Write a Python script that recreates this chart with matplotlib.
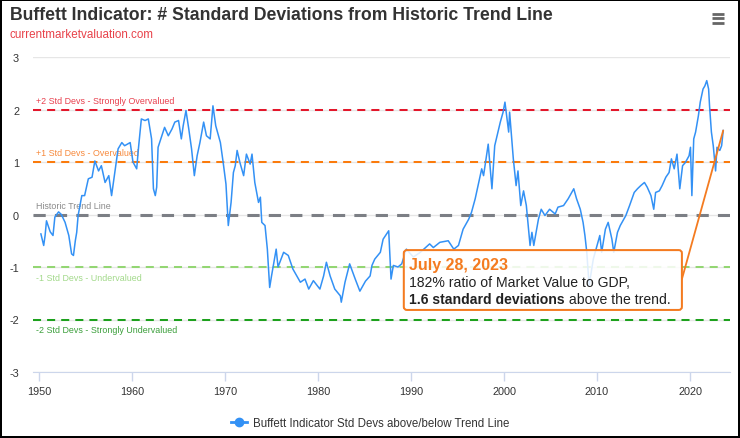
import matplotlib
matplotlib.use("Agg")
import matplotlib.pyplot as plt
from matplotlib.patches import FancyBboxPatch
from matplotlib.lines import Line2D

plt.rcParams['font.family'] = ['Liberation Sans', 'DejaVu Sans']
plt.rcParams['axes.unicode_minus'] = False

# decimal year of each reading
years = [1950.2, 1950.5, 1950.65, 1950.8, 1951.2, 1951.5, 1951.7, 1952.1, 1952.4, 1952.8,
         1953.2, 1953.5, 1953.7, 1953.9, 1954.05, 1954.2, 1954.6, 1954.9, 1955.3, 1955.7,
         1956.0, 1956.4, 1956.7, 1957.1, 1957.5, 1957.8, 1958.2, 1958.5, 1958.9, 1959.2,
         1959.8, 1960.1, 1960.5, 1960.7, 1961.0, 1961.4, 1961.75, 1962.1, 1962.3, 1962.5,
         1962.65, 1962.8, 1963.2, 1963.5, 1963.9, 1964.3, 1964.6, 1965.0, 1965.3, 1965.5,
         1965.8, 1966.1, 1966.4, 1966.7, 1967.0, 1967.3, 1967.7, 1968.0, 1968.4, 1968.7,
         1969.0, 1969.5, 1969.8, 1970.1, 1970.35, 1970.65, 1970.9, 1971.1, 1971.3, 1971.6,
         1972.0, 1972.3, 1972.7, 1972.9, 1973.2, 1973.6, 1973.8, 1973.95, 1974.3, 1974.55,
         1974.8, 1975.0, 1975.5, 1975.7, 1976.3, 1976.8, 1977.3, 1978.1, 1978.6, 1979.0,
         1979.5, 1980.2, 1980.6, 1980.9, 1981.3, 1981.8, 1982.4, 1982.5, 1982.9, 1983.4,
         1984.0, 1984.5, 1985.1, 1985.6, 1985.8, 1986.1, 1986.7, 1987.0, 1987.6, 1987.85,
         1988.1, 1988.6, 1989.0, 1989.5, 1990.25, 1991.0, 1992.0, 1992.4, 1993.1, 1994.0,
         1994.6, 1995.1, 1995.6, 1996.2, 1996.5, 1996.9, 1997.6, 1997.8, 1998.3, 1998.7,
         1999.0, 1999.6, 1999.9, 2000.1, 2000.5, 2000.6, 2001.0, 2001.3, 2001.5, 2001.8,
         2002.1, 2002.4, 2002.8, 2003.0, 2003.2, 2003.7, 2004.0, 2004.4, 2004.9, 2005.5,
         2005.8, 2006.4, 2006.9, 2007.5, 2007.8, 2008.2, 2008.5, 2008.7, 2008.9, 2009.15,
         2009.6, 2010.0, 2010.3, 2010.5, 2010.9, 2011.2, 2011.6, 2011.8, 2012.2, 2012.5,
         2013.1, 2013.5, 2014.0, 2014.35, 2014.7, 2015.1, 2015.4, 2015.8, 2016.1, 2016.3,
         2016.7, 2017.0, 2017.4, 2017.75, 2018.0, 2018.3, 2018.6, 2018.9, 2019.2, 2019.5,
         2019.9, 2020.05, 2020.2, 2020.4, 2020.6, 2020.9, 2021.1, 2021.4, 2021.6, 2021.8,
         2022.0, 2022.1, 2022.3, 2022.5, 2022.75, 2022.9, 2023.2, 2023.4, 2023.57]

std_devs = [-0.37, -0.59, -0.40, -0.12, -0.33, -0.40, -0.05, 0.05, 0.00, -0.15,
            -0.40, -0.75, -0.78, -0.50, -0.34, -0.02, 0.36, 0.36, 0.68, 0.71,
            1.02, 0.83, 0.93, 0.61, 0.74, 0.36, 0.87, 1.25, 1.37, 1.31,
            1.37, 1.00, 0.87, 1.28, 1.82, 1.79, 1.82, 1.44, 0.49, 0.36,
            0.52, 1.28, 1.50, 1.66, 1.50, 1.63, 1.76, 1.79, 1.44, 1.69,
            1.98, 1.63, 1.25, 0.74, 1.12, 1.37, 1.76, 1.50, 1.44, 2.07,
            1.69, 1.37, 0.99, 0.58, -0.21, 0.23, 0.80, 0.93, 1.22, 0.99,
            0.74, 1.15, 0.96, 1.15, 0.61, 0.23, 0.33, -0.15, -0.21, -0.66,
            -1.39, -1.17, -0.66, -1.00, -0.72, -0.78, -1.04, -1.29, -1.23, -1.42,
            -1.26, -1.42, -1.17, -0.91, -1.17, -1.42, -1.55, -1.67, -1.29, -0.94,
            -1.23, -1.46, -1.27, -1.17, -0.97, -0.85, -0.72, -0.47, -0.31, -1.23,
            -0.97, -1.00, -0.94, -0.66, -0.81, -0.72, -0.56, -0.63, -0.53, -0.50,
            -0.66, -0.59, -0.28, -0.09, 0.04, 0.30, 0.87, 0.74, 1.34, 0.49,
            1.31, 1.76, 1.95, 2.14, 1.57, 1.95, 1.06, 0.55, 0.83, 0.17,
            0.45, 0.17, -0.59, -0.34, -0.59, -0.09, 0.10, -0.02, 0.10, 0.01,
            0.14, 0.17, 0.30, 0.49, 0.30, 0.10, -0.15, -0.40, -0.72, -1.35,
            -0.85, -0.59, -0.40, -0.72, -0.28, -0.15, -0.47, -0.72, -0.34, -0.21,
            -0.02, 0.17, 0.42, 0.49, 0.55, 0.61, 0.52, 0.36, 0.10, 0.42,
            0.45, 0.55, 0.71, 0.80, 1.06, 0.87, 1.15, 0.49, 0.93, 0.99,
            1.12, 1.28, 0.36, 1.44, 1.57, 1.88, 2.14, 2.39, 2.45, 2.55,
            2.39, 2.07, 1.57, 1.31, 0.83, 1.28, 1.22, 1.31, 1.60]

band_levels = [2, 1, 0, -1, -2]
band_labels = ['+2 Std Devs - Strongly Overvalued', '+1 Std Devs - Overvalued',
               'Historic Trend Line', '-1 Std Devs - Undervalued',
               '-2 Std Devs - Strongly Undervalued']
band_colors = ['#e3172b', '#fb7b0c', '#7c7f85', '#93d673', '#1da11d']
band_text_colors = ['#e8404e', '#f7893c', '#8a8a8a', '#a2d98a', '#3a9e3a']

decade_ticks = [1950, 1960, 1970, 1980, 1990, 2000, 2010, 2020]
y_ticks = [-3, -2, -1, 0, 1, 2, 3]

series_name = 'Buffett Indicator Std Devs above/below Trend Line'
note_date = 'July 28, 2023'
note_ratio = '182% ratio of Market Value to GDP,'
note_bold = '1.6 standard deviations'
note_rest = ' above the trend.'

blue = '#3391f5'
orange = '#f47b20'

fig = plt.figure(figsize=(7.4, 4.39), dpi=100)
fig.patch.set_edgecolor('black')
fig.patch.set_linewidth(1.5)
ax = fig.add_axes([33 / 740, 66 / 439, 697 / 740, 315 / 439])

for lvl, lab, c, tc in zip(band_levels, band_labels, band_colors, band_text_colors):
    lw = 2.2 if lvl == 0 else 1.45
    ax.axhline(lvl, color=c, lw=lw, linestyle=(0, (4, 3)), zorder=2)
    if lvl >= 0:
        ax.annotate(lab, xy=(0, lvl), xycoords=('axes fraction', 'data'),
                    xytext=(2.5, 3.5), textcoords='offset points',
                    fontsize=6.4, color=tc, va='bottom', ha='left')
    else:
        ax.annotate(lab, xy=(0, lvl), xycoords=('axes fraction', 'data'),
                    xytext=(2.5, -4), textcoords='offset points',
                    fontsize=6.4, color=tc, va='top', ha='left')

ax.plot(years, std_devs, color=blue, lw=1.1, zorder=3)

ax.set_xlim(1949.35, 2024.3)
ax.set_ylim(-3, 3)
ax.set_yticks(y_ticks)
ax.set_xticks(decade_ticks)
ax.set_xticklabels([str(d) for d in decade_ticks])
ax.grid(axis='y', color='#e6e6e6', lw=1, zorder=0)
for s in ['top', 'left', 'right']:
    ax.spines[s].set_visible(False)
ax.spines['bottom'].set_color('#ccd6eb')
ax.tick_params(axis='x', direction='out', length=6.5, width=1, color='#ccd6eb',
               labelsize=7.8, labelcolor='#333333', pad=3.5)
ax.tick_params(axis='y', length=0, labelsize=7.8, labelcolor='#333333', pad=10)

# annotation box
box = FancyBboxPatch((0.532, 0.197), 0.399, 0.19, boxstyle='round,pad=0,rounding_size=0.0045',
                     mutation_aspect=2.2, transform=ax.transAxes,
                     facecolor=(1, 1, 1, 0.85), edgecolor=orange, lw=1.45, zorder=5)
ax.add_patch(box)
ax.annotate('', xy=(years[-1], std_devs[-1]), xytext=(0.931, 0.295), textcoords='axes fraction',
            arrowprops=dict(arrowstyle='-', color=orange, lw=1.3, shrinkA=0, shrinkB=0), zorder=4)
ax.text(0.5394, 0.327, note_date, transform=ax.transAxes, fontsize=11.5, fontweight='bold',
        color=orange, va='baseline', zorder=6)
ax.text(0.5394, 0.273, note_ratio, transform=ax.transAxes, fontsize=10.1,
        color='#222222', va='baseline', zorder=6)
t1 = ax.text(0.5394, 0.219, note_bold, transform=ax.transAxes, fontsize=10.1, fontweight='bold',
             color='#222222', va='baseline', zorder=6)
ax.annotate(note_rest, xy=(1, 0), xycoords=t1, fontsize=10.1, color='#222222',
            va='bottom', ha='left', zorder=6)

# legend
handle = Line2D([], [], color=blue, lw=2, marker='o', markersize=6)
fig.legend([handle], [series_name], loc='center', bbox_to_anchor=(0.5, 15 / 439),
           frameon=False, fontsize=8.3, handlelength=1.4, handletextpad=0.5,
           labelcolor='#333333')

# title block
fig.text(10 / 740, 1 - 15.5 / 439, 'Buffett Indicator: # Standard Deviations from Historic Trend Line',
         fontsize=12.7, fontweight='bold', color='#333333', va='center', ha='left')
fig.text(10 / 740, 1 - 35.5 / 439, 'currentmarketvaluation.com', fontsize=8.4,
         color='#e8424a', va='center', ha='left')

# menu icon: three thick bars
for bar_y in [14.5, 19, 23.5]:
    fig.add_artist(Line2D([712 / 740, 724 / 740], [1 - bar_y / 439, 1 - bar_y / 439],
                          color='#666666', lw=2, solid_capstyle='butt'))

fig.savefig('out.png', dpi=100)
